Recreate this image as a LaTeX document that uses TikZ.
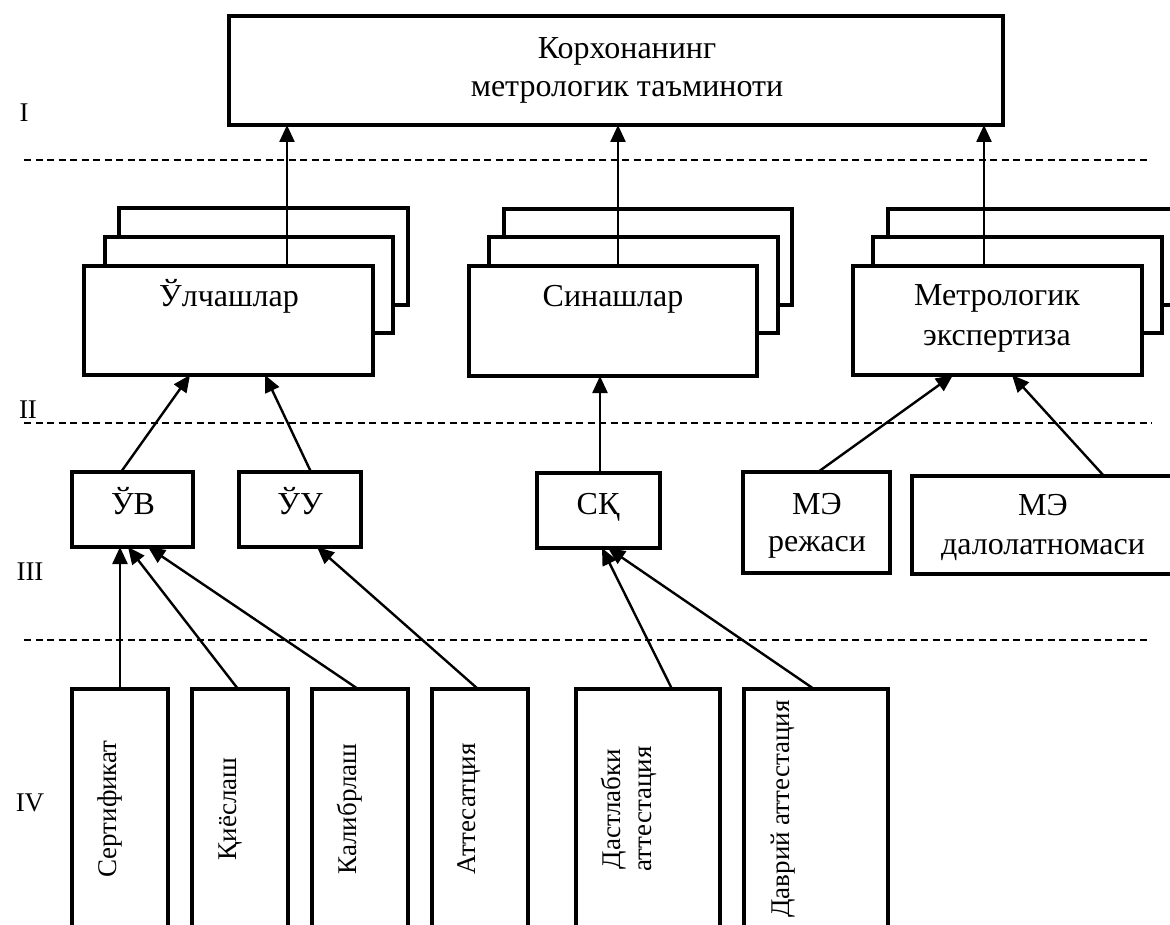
\documentclass[tikz,border=0pt]{standalone}
\usepackage{fontspec}
\setmainfont{Liberation Serif}
\usetikzlibrary{arrows.meta,calc}
\begin{document}
\begin{tikzpicture}[x=1pt,y=-1pt,
  box/.style={draw,line width=4pt,rectangle,inner sep=0pt,outer sep=0pt,fill=white},
  conn/.style={line width=2.4pt,-{Triangle[length=17pt,width=15pt]}},
  sep/.style={line width=1.5pt,dash pattern=on 7pt off 4.5pt},
  lbl/.style={inner sep=0pt,anchor=base,font=\fontsize{32}{38}\selectfont},
  vlbl/.style={inner sep=0pt,anchor=center,rotate=90,align=center,font=\fontsize{27}{31}\selectfont},
  lvl/.style={inner sep=0pt,anchor=center,font=\fontsize{27}{31}\selectfont}]
\useasboundingbox (0,0) rectangle (1170,925);
\clip (0,0) rectangle (1170,925);
% level separators
\draw[sep] (24,160) -- (1150,160);
\draw[sep] (24,423) -- (1152,423);
\draw[sep] (24,640) -- (1150,640);
\node[lvl] (l1) at (24,113) {I};
\node[lvl] (l2) at (28,410) {II};
\node[lvl] (l3) at (30,572) {III};
\node[lvl] (l4) at (30,803) {IV};
% top box
\node[box,minimum width=774pt,minimum height=109pt] (top) at (616,70.5) {};
\node[lbl] (t1) at (627,59) {Корхонанинг};
\node[lbl] (t2) at (627,97) {метрологик таъминоти};
% stack 1
\node[box,minimum width=289pt,minimum height=97pt] (u3) at (263.5,256.5) {};
\node[box,minimum width=288pt,minimum height=96pt] (u2) at (249,285) {};
\node[box,minimum width=289pt,minimum height=109pt] (u1) at (228.5,320.5) {};
\node[lbl] (u1t) at (229,307) {Ўлчашлар};
% stack 2
\node[box,minimum width=288pt,minimum height=96pt] (s3) at (648,257) {};
\node[box,minimum width=289pt,minimum height=96pt] (s2) at (633.5,285) {};
\node[box,minimum width=288pt,minimum height=110pt] (s1) at (613,321) {};
\node[lbl] (s1t) at (613,307) {Синашлар};
% stack 3
\node[box,minimum width=312pt,minimum height=96pt] (m3) at (1044,257) {};
\node[box,minimum width=289pt,minimum height=96pt] (m2) at (1017.5,285) {};
\node[box,minimum width=289pt,minimum height=109pt] (m1) at (997.5,320.5) {};
\node[lbl] (m1a) at (997,306) {Метрологик};
\node[lbl] (m1b) at (997,345) {экспертиза};
% level III boxes
\node[box,minimum width=121pt,minimum height=75pt] (uv) at (132.5,509.5) {};
\node[lbl] (uvt) at (133,514) {ЎВ};
\node[box,minimum width=122pt,minimum height=75pt] (uu) at (300,509.5) {};
\node[lbl] (uut) at (300,514) {ЎУ};
\node[box,minimum width=123pt,minimum height=75pt] (sk) at (598.5,510.5) {};
\node[lbl] (skt) at (598,514) {СҚ};
\node[box,minimum width=147pt,minimum height=101pt] (mr) at (816.5,522.5) {};
\node[lbl] (mra) at (817,514) {МЭ};
\node[lbl] (mrb) at (817,551) {режаси};
\node[box,minimum width=278pt,minimum height=98pt] (md) at (1051,525) {};
\node[lbl] (mda) at (1043,515) {МЭ};
\node[lbl] (mdb) at (1043,554) {далолатномаси};
% level IV boxes
\node[box,minimum width=96pt,minimum height=271pt] (b1) at (120,824.5) {};
\node[box,minimum width=96pt,minimum height=271pt] (b2) at (240,824.5) {};
\node[box,minimum width=96pt,minimum height=271pt] (b3) at (360,824.5) {};
\node[box,minimum width=96pt,minimum height=271pt] (b4) at (480,824.5) {};
\node[box,minimum width=144pt,minimum height=271pt] (b5) at (648,824.5) {};
\node[box,minimum width=144pt,minimum height=271pt] (b6) at (816,824.5) {};
\node[vlbl] (b1t) at (110,809) {Сертификат};
\node[vlbl] (b2t) at (231,809) {Қиёслаш};
\node[vlbl] (b3t) at (350,809) {Калибрлаш};
\node[vlbl] (b4t) at (469,809) {Аттесатция};
\node[vlbl] (b5t) at (629,809) {Дастлабки\\аттестация};
\node[vlbl] (b6t) at (783,809) {Даврий аттестация};
% connectors
\draw[conn] ($(u1.north west)+(203,0)$) -- ($(top.south west)+(58,0)$);
\draw[conn] ($(s1.north west)+(149,0)$) -- ($(top.south west)+(389,0)$);
\draw[conn] ($(m1.north west)+(131,0)$) -- ($(top.south west)+(755,0)$);
\draw[conn] ($(uv.north west)+(49,0)$) -- ($(u1.south west)+(106,0)$);
\draw[conn] ($(uu.north west)+(72,0)$) -- ($(u1.south west)+(181,0)$);
\draw[conn] ($(sk.north west)+(63,0)$) -- ($(s1.south west)+(131,0)$);
\draw[conn] ($(mr.north west)+(75,0)$) -- ($(m1.south west)+(100,0)$);
\draw[conn] ($(md.north west)+(192,0)$) -- ($(m1.south west)+(159,0)$);
\draw[conn] ($(b1.north west)+(48,0)$) -- ($(uv.south west)+(48,0)$);
\draw[conn] ($(b2.north west)+(46,0)$) -- ($(uv.south west)+(56,0)$);
\draw[conn] ($(b3.north west)+(46,0)$) -- ($(uv.south west)+(76,0)$);
\draw[conn] ($(b4.north west)+(46,0)$) -- ($(uu.south west)+(78,0)$);
\draw[conn] ($(b5.north west)+(96,0)$) -- ($(sk.south west)+(65,0)$);
\draw[conn] ($(b6.north west)+(70,0)$) -- ($(sk.south west)+(71,0)$);
\end{tikzpicture}
\end{document}
